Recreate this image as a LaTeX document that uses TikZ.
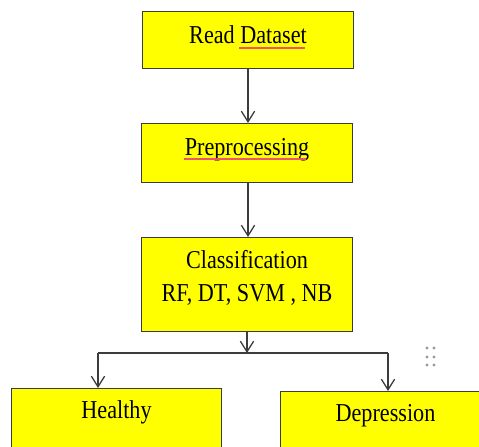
\documentclass[tikz,border=0pt]{standalone}
\usepackage{fontspec}
\setmainfont{Liberation Serif}[FakeStretch=0.86]
\usepackage{tikz}
\usetikzlibrary{arrows.meta}
\definecolor{boxyellow}{RGB}{255,255,0}
\definecolor{edgegray}{RGB}{60,60,60}
\definecolor{squigglered}{RGB}{236,84,112}

\begin{document}
\begin{tikzpicture}[x=0.03cm, y=-0.03cm,
        box/.style={draw=edgegray, line width=0.85pt, fill=boxyellow, minimum width=6.3cm,
            inner ysep=0pt, font=\fontsize{22}{28}\selectfont},
        onerow/.style={text height=27.5pt},
        arr/.style={draw=edgegray, line width=1.1pt, -{Straight Barb[length=3.2mm, width=4mm]}}]
        \clip (0,0) rectangle (479,446);

        % Pipeline boxes.
        \draw (248,11) node[box, onerow, anchor=north, text depth=21pt] (read) {Read Dataset};
        \draw (247,123) node[box, onerow, anchor=north, text depth=22.5pt] (prep) {Preprocessing};
        \draw (247,237) node[box, anchor=north, text height=54.8pt, text depth=25.2pt] (cls)
            {\begin{tabular}[b]{@{}c@{}}Classification\\RF, DT, SVM , NB\end{tabular}};

        % Outcomes.
        \draw (116.5,388) node[box, anchor=north, text height=26pt, text depth=60pt] (healthy) {Healthy};
        \draw (385.5,391) node[box, anchor=north, text height=26pt, text depth=60pt] (depr) {Depression};

        % Spell check marks.
        \draw[squigglered, line width=1.8pt] (239,48) -- (305,48);
        \draw[squigglered, line width=1.8pt] (184,159) -- (306,159);

        % Arrows.
        \coordinate (split) at (247,353);
        \coordinate (jl) at (98,353);
        \coordinate (jr) at (388,353);
        \draw[arr] (read.south) -- (read.south |- prep.north);
        \draw[arr] (read.south |- prep.south) -- (read.south |- cls.north);
        \draw[arr] (cls.south) -- (split);
        \draw[draw=edgegray, line width=1.1pt] (jl) -- (jr);
        \draw[arr] (jl) -- (jl |- healthy.north);
        \draw[arr] (jr) -- (jr |- depr.north);

        % Handle dots.
        \foreach \px in {427,434}
            \foreach \py in {348,357,365}
                \fill[gray!80] (\px,\py) circle (1.7);
    \end{tikzpicture}
\end{document}
